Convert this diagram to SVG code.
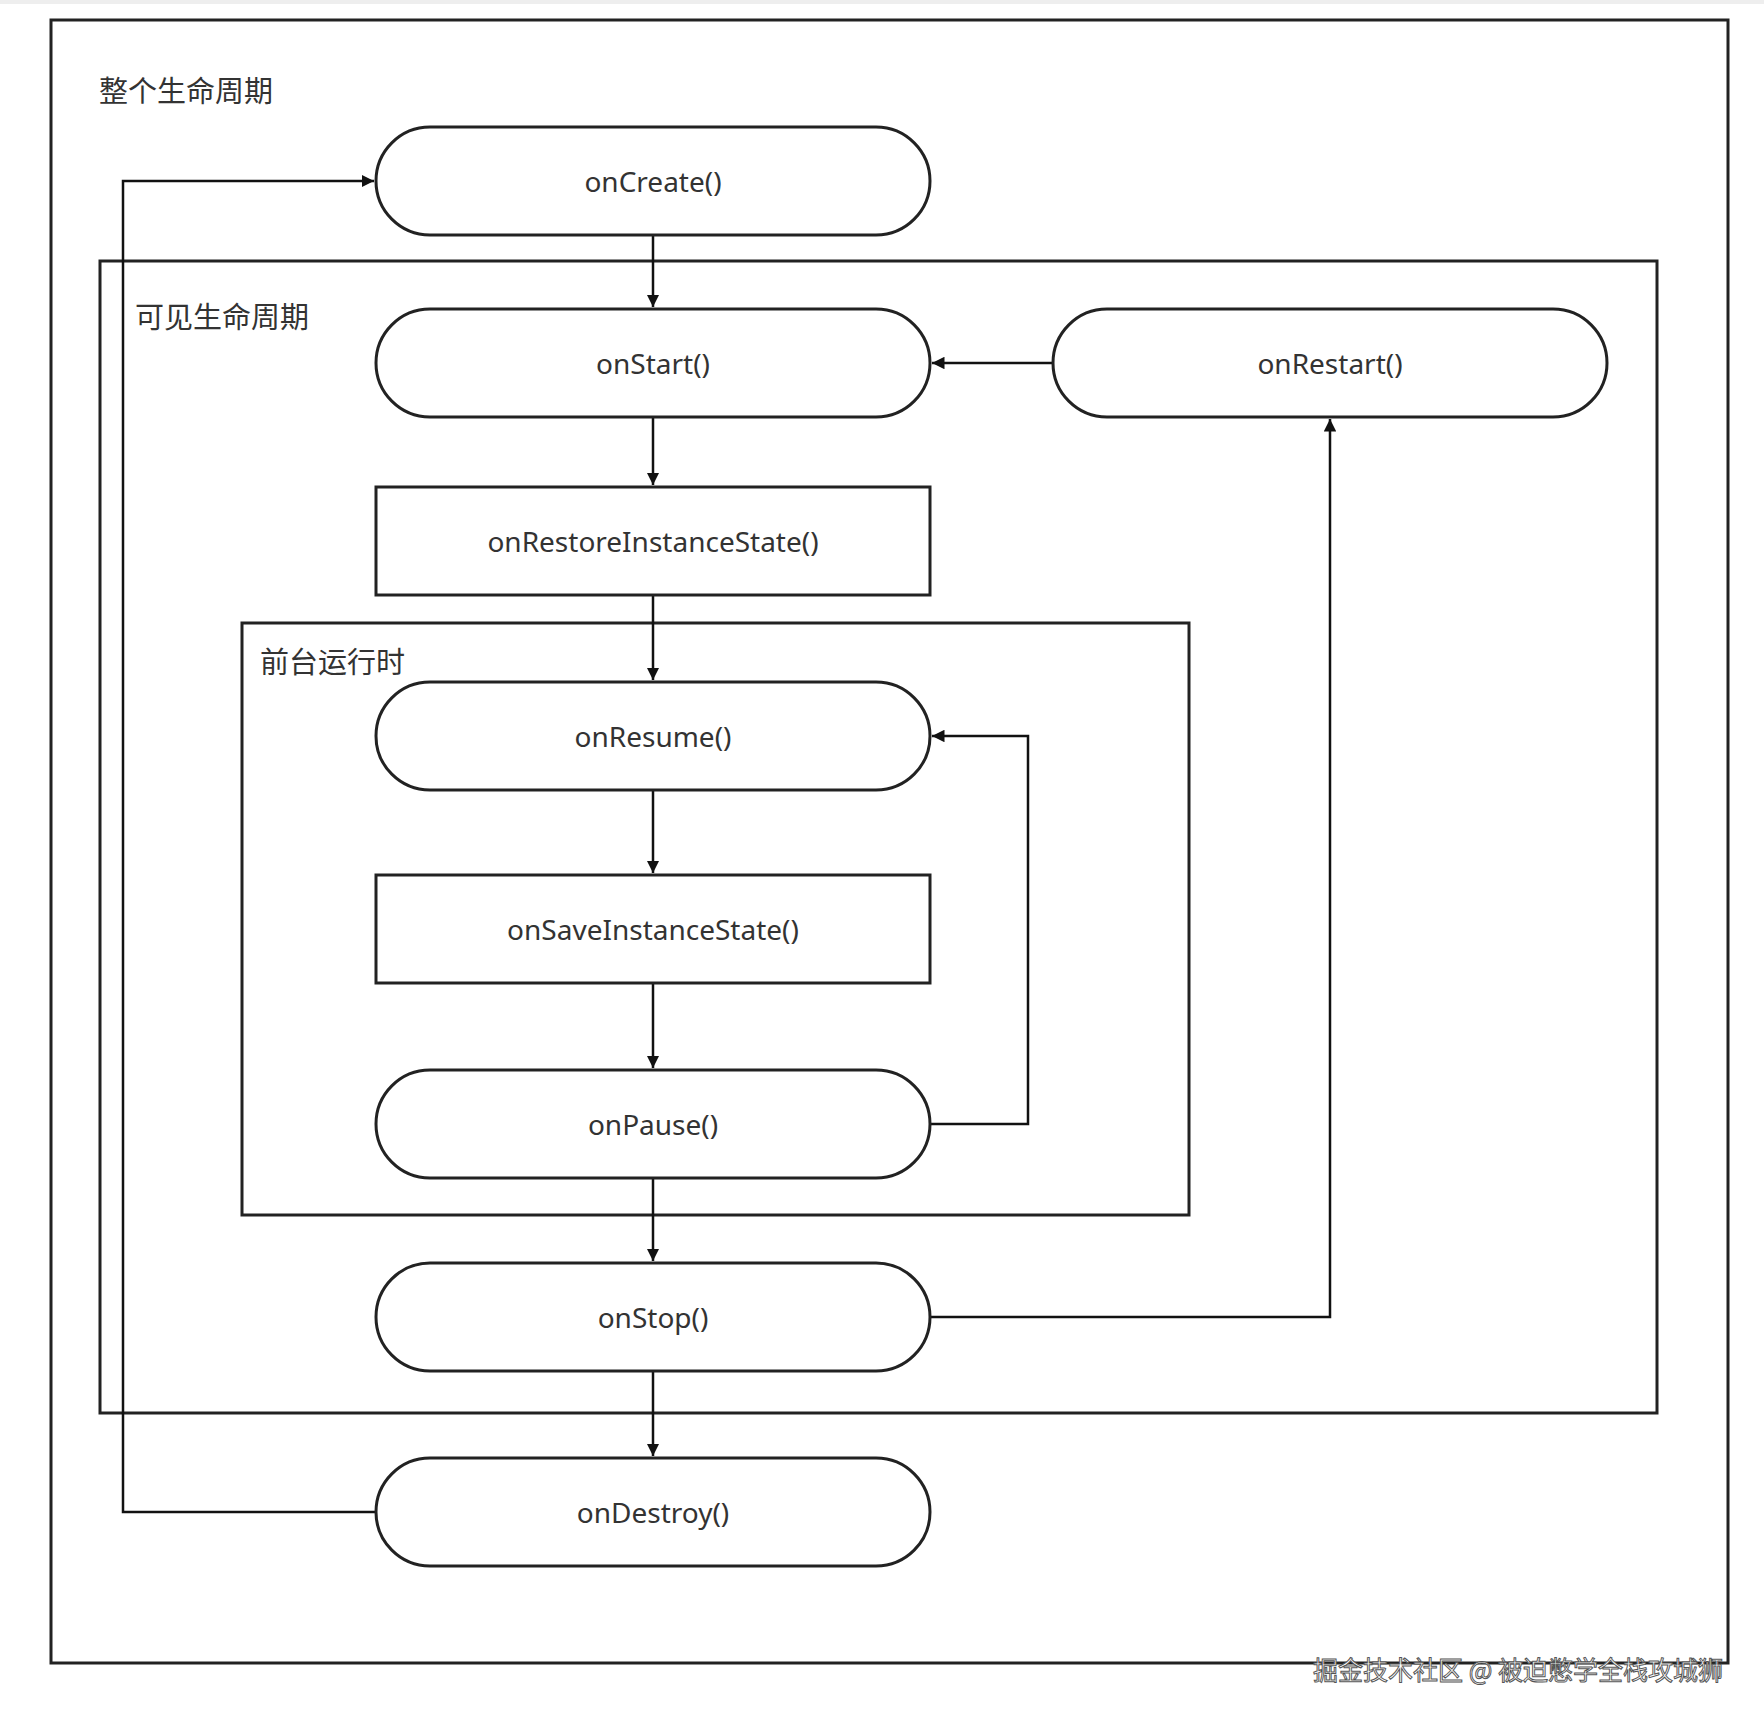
<svg xmlns="http://www.w3.org/2000/svg" width="1764" height="1724" viewBox="0 0 1764 1724">
<style>
.box{fill:none;stroke:#222;stroke-width:3}
.node{fill:#fff;stroke:#222;stroke-width:3}
.t{font-family:"Noto Sans","Noto Sans CJK SC",sans-serif;font-size:28px;fill:#333;text-anchor:middle;dominant-baseline:central}
.lbl{font-family:"Noto Sans CJK SC","Noto Sans",sans-serif;font-size:29px;fill:#333}
.c{fill:none;stroke:#111;stroke-width:2.5;marker-end:url(#a)}
.wm{font-family:"Noto Sans CJK SC",sans-serif;font-size:26px;fill:#fff;stroke:#555;stroke-width:1}
</style>
<defs><marker id="a" viewBox="0 0 10 10" refX="10" refY="5" markerWidth="5" markerHeight="5" orient="auto"><path d="M0,0L10,5L0,10z" fill="#111"/></marker></defs>
<rect width="1764" height="1724" fill="#fff"/>
<rect x="0" y="0" width="1764" height="4" fill="#eee"/>
<g id="whole"><rect class="box" x="51" y="20" width="1677" height="1643"/><text class="lbl" x="99" y="102">整个生命周期</text></g>
<g id="visible"><rect class="box" x="100" y="261" width="1557" height="1152"/><text class="lbl" x="135" y="328">可见生命周期</text></g>
<g id="foreground"><rect class="box" x="242" y="623" width="947" height="592"/><text class="lbl" x="260" y="673">前台运行时</text></g>
<g id="connectors">
<path class="c" d="M653,235V307"/>
<path class="c" d="M653,417V485"/>
<path class="c" d="M653,595V680"/>
<path class="c" d="M653,790V873"/>
<path class="c" d="M653,983V1068"/>
<path class="c" d="M653,1178V1261"/>
<path class="c" d="M653,1371V1456"/>
<path class="c" d="M376,1512H123V181H374"/>
<path class="c" d="M930,1124H1028V736H932"/>
<path class="c" d="M930,1317H1330V419"/>
<path class="c" d="M1053,363H932"/>
</g>
<g id="onCreate"><rect class="node" x="376" y="127" width="554" height="108" rx="54"/><text class="t" x="653" y="181">onCreate()</text></g>
<g id="onStart"><rect class="node" x="376" y="309" width="554" height="108" rx="54"/><text class="t" x="653" y="363">onStart()</text></g>
<g id="onRestart"><rect class="node" x="1053" y="309" width="554" height="108" rx="54"/><text class="t" x="1330" y="363">onRestart()</text></g>
<g id="onRestoreInstanceState"><rect class="node" x="376" y="487" width="554" height="108"/><text class="t" x="653" y="541">onRestoreInstanceState()</text></g>
<g id="onResume"><rect class="node" x="376" y="682" width="554" height="108" rx="54"/><text class="t" x="653" y="736">onResume()</text></g>
<g id="onSaveInstanceState"><rect class="node" x="376" y="875" width="554" height="108"/><text class="t" x="653" y="929">onSaveInstanceState()</text></g>
<g id="onPause"><rect class="node" x="376" y="1070" width="554" height="108" rx="54"/><text class="t" x="653" y="1124">onPause()</text></g>
<g id="onStop"><rect class="node" x="376" y="1263" width="554" height="108" rx="54"/><text class="t" x="653" y="1317">onStop()</text></g>
<g id="onDestroy"><rect class="node" x="376" y="1458" width="554" height="108" rx="54"/><text class="t" x="653" y="1512">onDestroy()</text></g>
<text class="wm" x="1313" y="1680" textLength="410" lengthAdjust="spacingAndGlyphs">掘金技术社区 @ 被迫憋学全栈攻城狮</text>
</svg>
